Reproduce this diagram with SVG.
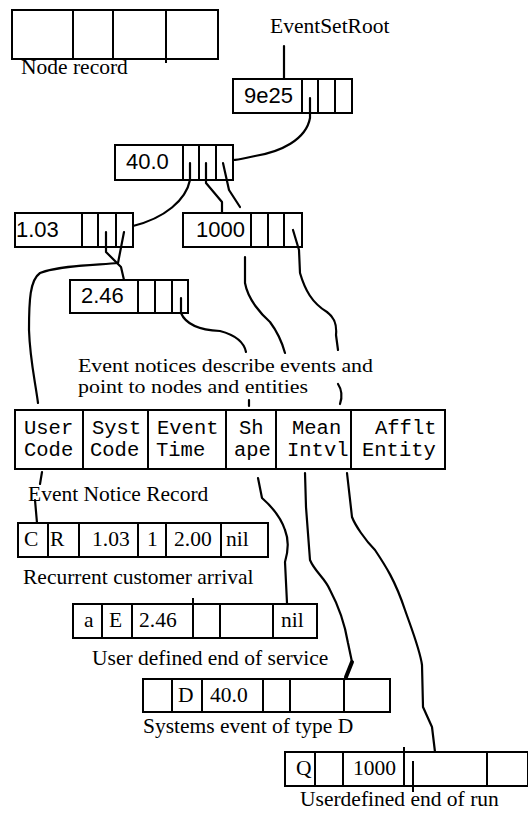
<svg xmlns="http://www.w3.org/2000/svg" width="528" height="815" viewBox="0 0 528 815">
<style>
.box{fill:#fff;stroke:#000;stroke-width:2}
.div{stroke:#000;stroke-width:2;fill:none}
.ln{stroke:#000;stroke-width:2.2;fill:none;stroke-linecap:round;stroke-linejoin:round}
.serif{font-family:"Liberation Serif","Times New Roman",serif;font-size:21.5px;fill:#000}
.note{font-family:"Liberation Serif","Times New Roman",serif;font-size:19px;fill:#000}
.sans{font-family:"Liberation Sans",Arial,sans-serif;font-size:22px;fill:#000}
.mono{font-family:"Liberation Mono","Courier New",monospace;font-size:20.5px;fill:#000}
</style>
<rect width="528" height="815" fill="#fff"/>

<g id="node-record-legend">
<rect class="box" x="12" y="10" width="206" height="49"/>
<path class="div" d="M73,10V59M113,10V59M166,10V63"/>
<text class="serif" x="21" y="74">Node record</text>
</g>

<g id="event-set-root-label">
<text class="serif" x="270" y="33">EventSetRoot</text>
</g>

<g id="node-9e25">
<rect class="box" x="233" y="79" width="119" height="34"/>
<path class="div" d="M302,79V113M318,79V113M335,79V113"/>
<text class="sans" x="244" y="103">9e25</text>
</g>

<g id="node-40">
<rect class="box" x="115" y="145" width="118" height="35"/>
<path class="div" d="M183,145V180M199,145V180M216,145V180"/>
<text class="sans" x="126" y="169">40.0</text>
</g>

<g id="node-103">
<rect class="box" x="15" y="213" width="118" height="34"/>
<path class="div" d="M82,213V247M98,213V247M116,213V247"/>
<text class="sans" x="16" y="237">1.03</text>
</g>

<g id="node-1000">
<rect class="box" x="183" y="213" width="119" height="34"/>
<path class="div" d="M251,213V247M268,213V247M284,213V247"/>
<text class="sans" x="196" y="237">1000</text>
</g>

<g id="node-246">
<rect class="box" x="70" y="280" width="118" height="33"/>
<path class="div" d="M138,280V313M155,280V313M172,280V313"/>
<text class="sans" x="81" y="303">2.46</text>
</g>

<g id="note">
<text class="note" x="78" y="372" textLength="295" lengthAdjust="spacingAndGlyphs">Event notices describe events and</text>
<text class="note" x="78" y="393" textLength="230" lengthAdjust="spacingAndGlyphs">point to nodes and entities</text>
</g>

<g id="event-notice-record">
<rect class="box" x="15" y="410" width="430" height="59"/>
<path class="div" d="M83,410V469M148,410V469M226,410V469M276,410V469M351,410V469"/>
<text class="mono" x="24" y="434">User</text>
<text class="mono" x="24" y="456">Code</text>
<text class="mono" x="92" y="434">Syst</text>
<text class="mono" x="90" y="456">Code</text>
<text class="mono" x="157" y="434">Event</text>
<text class="mono" x="156" y="456">Time</text>
<text class="mono" x="239" y="434">Sh</text>
<text class="mono" x="234" y="456">ape</text>
<text class="mono" x="292" y="434">Mean</text>
<text class="mono" x="287" y="456">Intvl</text>
<text class="mono" x="375" y="434">Afflt</text>
<text class="mono" x="362" y="456">Entity</text>
<text class="serif" x="28" y="501">Event Notice Record</text>
</g>

<g id="record-CR">
<rect class="box" x="18" y="523" width="250" height="34"/>
<path class="div" d="M48,523V557M79,523V557M138,523V557M166,523V557M221,523V557"/>
<text class="serif" x="24" y="546">C</text>
<text class="serif" x="50" y="546">R</text>
<text class="serif" x="92" y="546">1.03</text>
<text class="serif" x="147" y="546">1</text>
<text class="serif" x="174" y="546">2.00</text>
<text class="serif" x="226" y="546">nil</text>
<text class="serif" x="23" y="584">Recurrent customer arrival</text>
</g>

<g id="record-aE">
<rect class="box" x="73" y="604" width="244" height="34"/>
<path class="div" d="M102,604V638M132,604V638M193,598V638M220,604V638M273,604V638"/>
<text class="serif" x="84" y="627">a</text>
<text class="serif" x="109" y="627">E</text>
<text class="serif" x="139" y="627">2.46</text>
<text class="serif" x="281" y="627">nil</text>
<text class="serif" x="92" y="665">User defined end of service</text>
</g>

<g id="record-D">
<rect class="box" x="143" y="679" width="247" height="33"/>
<path class="div" d="M172,679V712M202,679V712M263,679V712M290,679V712M344,679V712"/>
<text class="serif" x="178" y="702">D</text>
<text class="serif" x="210" y="702">40.0</text>
<text class="serif" x="143" y="733">Systems event of type D</text>
</g>

<g id="record-Q">
<rect class="box" x="285" y="752" width="243" height="34"/>
<path class="div" d="M315,752V786M343,752V786M404,747V786M487,752V786M413,761V792"/>
<text class="serif" x="296" y="775">Q</text>
<text class="serif" x="353" y="775">1000</text>
<text class="serif" x="300" y="806">Userdefined end of run</text>
</g>

<g id="connectors">
<path class="ln" d="M284,46V79"/>
<path class="ln" d="M310,98V118C306,140 280,152 255,156C245,158 238,160 233,160"/>
<path class="ln" d="M190,163V180C186,200 165,218 133,226"/>
<path class="ln" d="M206,163V183L222,202V213"/>
<path class="ln" d="M223,163L229,190L240,207"/>
<path class="ln" d="M106,232V252L121,267L124,280"/>
<path class="ln" d="M124,232L118,263C100,265 60,265 40,273C30,280 29,300 29,330C30,360 35,380 38,403"/>
<path class="ln" d="M181,298V313C186,325 200,330 220,331C235,335 244,342 246,352"/>
<path class="ln" d="M245,257V283C248,300 262,315 270,322C276,330 282,342 285,353"/>
<path class="ln" d="M293,230L299,250L300,273C305,290 312,303 327,312C335,318 337,325 336,335L338,350"/>
<path class="ln" d="M338,384C342,390 342,398 340,404"/>
<path class="ln" d="M249,400V406"/>
<path class="ln" d="M42,472L40,484M35,500L37,523"/>
<path class="ln" d="M258,478L262,498C270,505 280,515 285,530C289,540 288,552 285,562L287,603"/>
<path class="ln" d="M305,473L306,507L310,560C315,572 325,578 330,590C338,605 345,625 348,643L352,662L345,679"/>
<path class="ln" d="M352,662L346,677" style="stroke-width:4"/>
<path class="ln" d="M347,473L352,517C355,525 365,540 375,550C385,565 395,580 405,610C412,630 420,650 422,665L423,707L432,727L435,752"/>
</g>
</svg>
